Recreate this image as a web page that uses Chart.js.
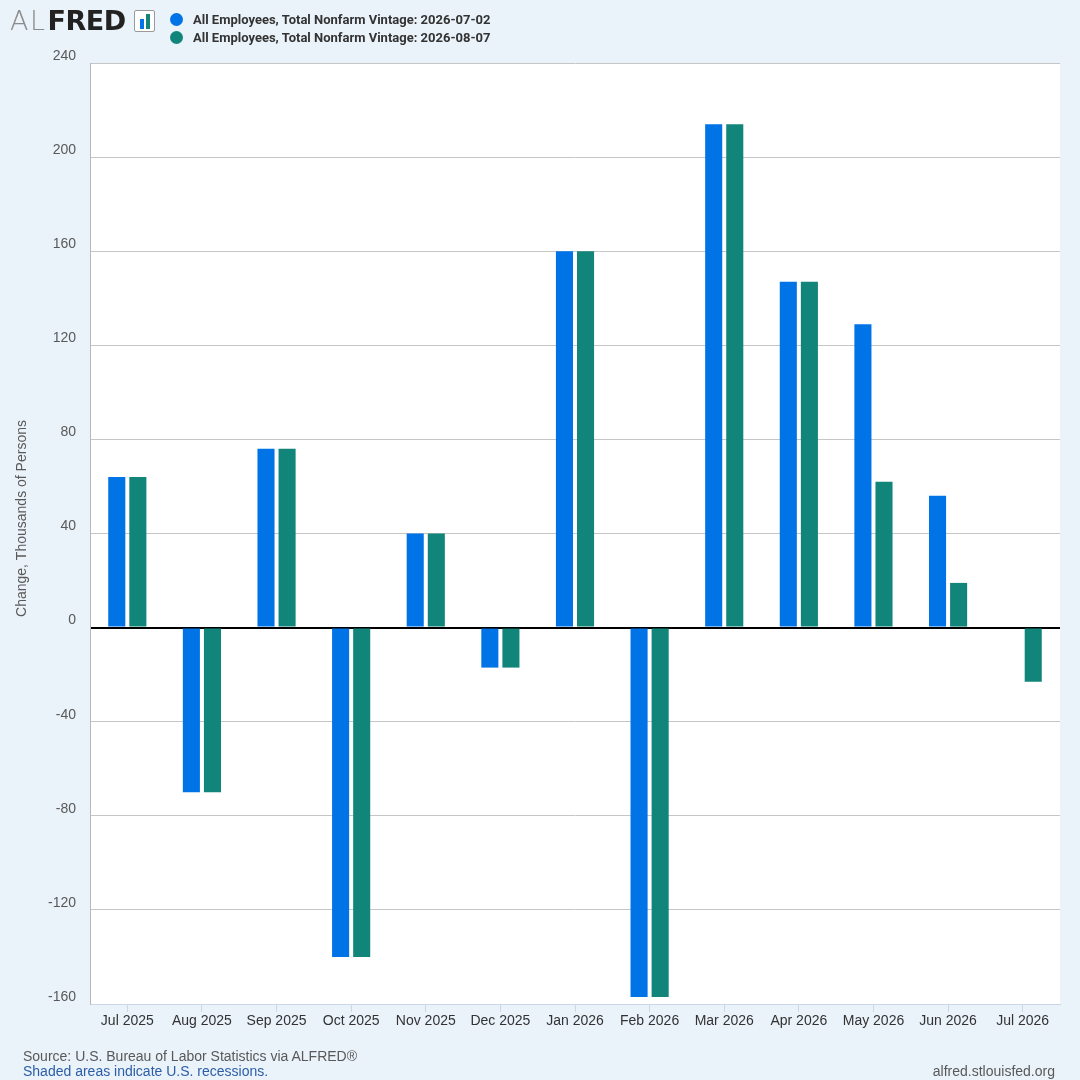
<!DOCTYPE html>
<html>
<head>
<meta charset="utf-8">
<script src="https://cdn.jsdelivr.net/npm/chart.js@4/dist/chart.umd.min.js"></script>
<style>
  html, body { margin: 0; padding: 0; background: #eaf2fa; }
  #wrap { position: relative; width: 1080px; height: 1080px; overflow: hidden; }
  #chart { position: absolute; left: 0; top: 0; }
  .logo { position: absolute; left: 10px; top: 2px; font-size: 27px; line-height: 38px; white-space: nowrap; font-family: 'DejaVu Sans', sans-serif; }
  .logo .al { color: #8c8c8c; font-weight: 200; letter-spacing: 1.5px; }
  .logo .fred { color: #222; font-weight: 700; letter-spacing: -0.5px; margin-left: 1px; }
  .icon { position: absolute; left: 134px; top: 10px; width: 21px; height: 22px; border: 1px solid #9a9a9a; border-radius: 2px; background: #fff; box-sizing: border-box; }
  .icon i { position: absolute; bottom: 2px; width: 4px; }
  .legend { position: absolute; left: 170px; top: 11px; font-family: Roboto, 'Noto Sans', sans-serif; font-weight: 700; font-size: 13px; color: #333; }
  .legend div { height: 18px; line-height: 17px; white-space: nowrap; }
  .legend span.dot { display: inline-block; width: 13px; height: 13px; border-radius: 50%; vertical-align: -2px; margin-right: 10px; }
  .foot { position: absolute; font-family: 'Liberation Sans', Arial, sans-serif; font-size: 14px; color: #595959; }
</style>
</head>
<body>
<div id="wrap">
  <canvas id="chart" width="1080" height="1080"></canvas>
  <div class="logo"><span class="al">AL</span><span class="fred">FRED</span></div>
  <div class="icon">
    <i style="left:5px;height:10px;background:#0073e6"></i>
    <i style="left:11px;height:15px;background:#12857a"></i>
  </div>
  <div class="legend" id="legend"></div>
  <div class="foot" style="left:23px;top:1048px;">Source: U.S. Bureau of Labor Statistics via ALFRED®</div>
  <div class="foot" style="left:23px;top:1063px;color:#2b5ea7;">Shaded areas indicate U.S. recessions.</div>
  <div class="foot" style="right:25px;top:1063px;">alfred.stlouisfed.org</div>
</div>
<script>
// months on the x axis
const months = ['Jul 2025', 'Aug 2025', 'Sep 2025', 'Oct 2025', 'Nov 2025', 'Dec 2025',
  'Jan 2026', 'Feb 2026', 'Mar 2026', 'Apr 2026', 'May 2026', 'Jun 2026', 'Jul 2026'];

// vintage 2026-07-02 (no Jul 2026 value yet)
const vintageJul = [64, -70, 76, -140, 40, -17, 160, -157, 214, 147, 129, 56, null];
// vintage 2026-08-07
const vintageAug = [64, -70, 76, -140, 40, -17, 160, -157, 214, 147, 62, 19, -23];

const seriesNames = ['All Employees, Total Nonfarm Vintage: 2026-07-02', 'All Employees, Total Nonfarm Vintage: 2026-08-07'];
const seriesColors = ['#0073e6', '#12857a'];

const yTicks = [-160, -120, -80, -40, 0, 40, 80, 120, 160, 200, 240];
const yTitle = 'Change, Thousands of Persons';

// html legend, stacked next to the logo
document.getElementById('legend').innerHTML = seriesNames.map((n, i) =>
  '<div><span class="dot" style="background:' + seriesColors[i] + '"></span>' + n + '</div>').join('');

// white plot background
const plotBg = {
  id: 'plotBg',
  beforeDraw(chart) {
    const { ctx, chartArea: a } = chart;
    ctx.save();
    ctx.fillStyle = '#ffffff';
    ctx.fillRect(a.left, a.top, a.right - a.left, a.bottom - a.top);
    ctx.restore();
  }
};

// y axis title, placed a bit above the plot's middle like the original
const yTitlePlugin = {
  id: 'yTitle',
  afterDraw(chart) {
    const { ctx, chartArea: a } = chart;
    ctx.save();
    ctx.translate(22, (a.top + a.bottom) / 2 - 15);
    ctx.rotate(-Math.PI / 2);
    ctx.font = "14px 'Liberation Sans', Arial, sans-serif";
    ctx.fillStyle = '#595959';
    ctx.textAlign = 'center';
    ctx.textBaseline = 'middle';
    ctx.fillText(yTitle, 0, 0);
    ctx.restore();
  }
};

const tickFont = { family: "'Liberation Sans', Arial, sans-serif", size: 14 };

new Chart(document.getElementById('chart').getContext('2d'), {
  type: 'bar',
  data: {
    labels: months,
    datasets: [
      { label: seriesNames[0], data: vintageJul, backgroundColor: seriesColors[0] },
      { label: seriesNames[1], data: vintageAug, backgroundColor: seriesColors[1] }
    ]
  },
  options: {
    responsive: false,
    animation: false,
    devicePixelRatio: 1,
    categoryPercentage: 0.565,
    barPercentage: 0.81,
    layout: { padding: { top: 63, right: 20, bottom: 40, left: 0 } },
    plugins: {
      legend: { display: false },
      tooltip: { enabled: false }
    },
    scales: {
      x: {
        offset: true,
        grid: { offset: false, drawOnChartArea: false, drawTicks: true, tickLength: 8, color: '#ccd6eb' },
        border: { color: '#ccd6eb', width: 1 },
        ticks: { color: '#333', font: tickFont, padding: 1, maxRotation: 0, autoSkip: false },
        afterFit(scale) { scale.height = 36; }
      },
      y: {
        min: -160,
        max: 240,
        afterBuildTicks(scale) { scale.ticks = yTicks.map(v => ({ value: v })); },
        grid: {
          drawTicks: false,
          color: c => c.tick && c.tick.value === 0 ? '#000000' : '#c6c6c6',
          lineWidth: c => c.tick && c.tick.value === 0 ? 2 : 1
        },
        border: { color: '#b8b8b8', width: 1 },
        ticks: { color: '#595959', font: tickFont, padding: 14, labelOffset: -7 },
        afterFit(scale) { scale.width = 90; }
      }
    }
  },
  plugins: [plotBg, yTitlePlugin]
});
</script>
</body>
</html>
